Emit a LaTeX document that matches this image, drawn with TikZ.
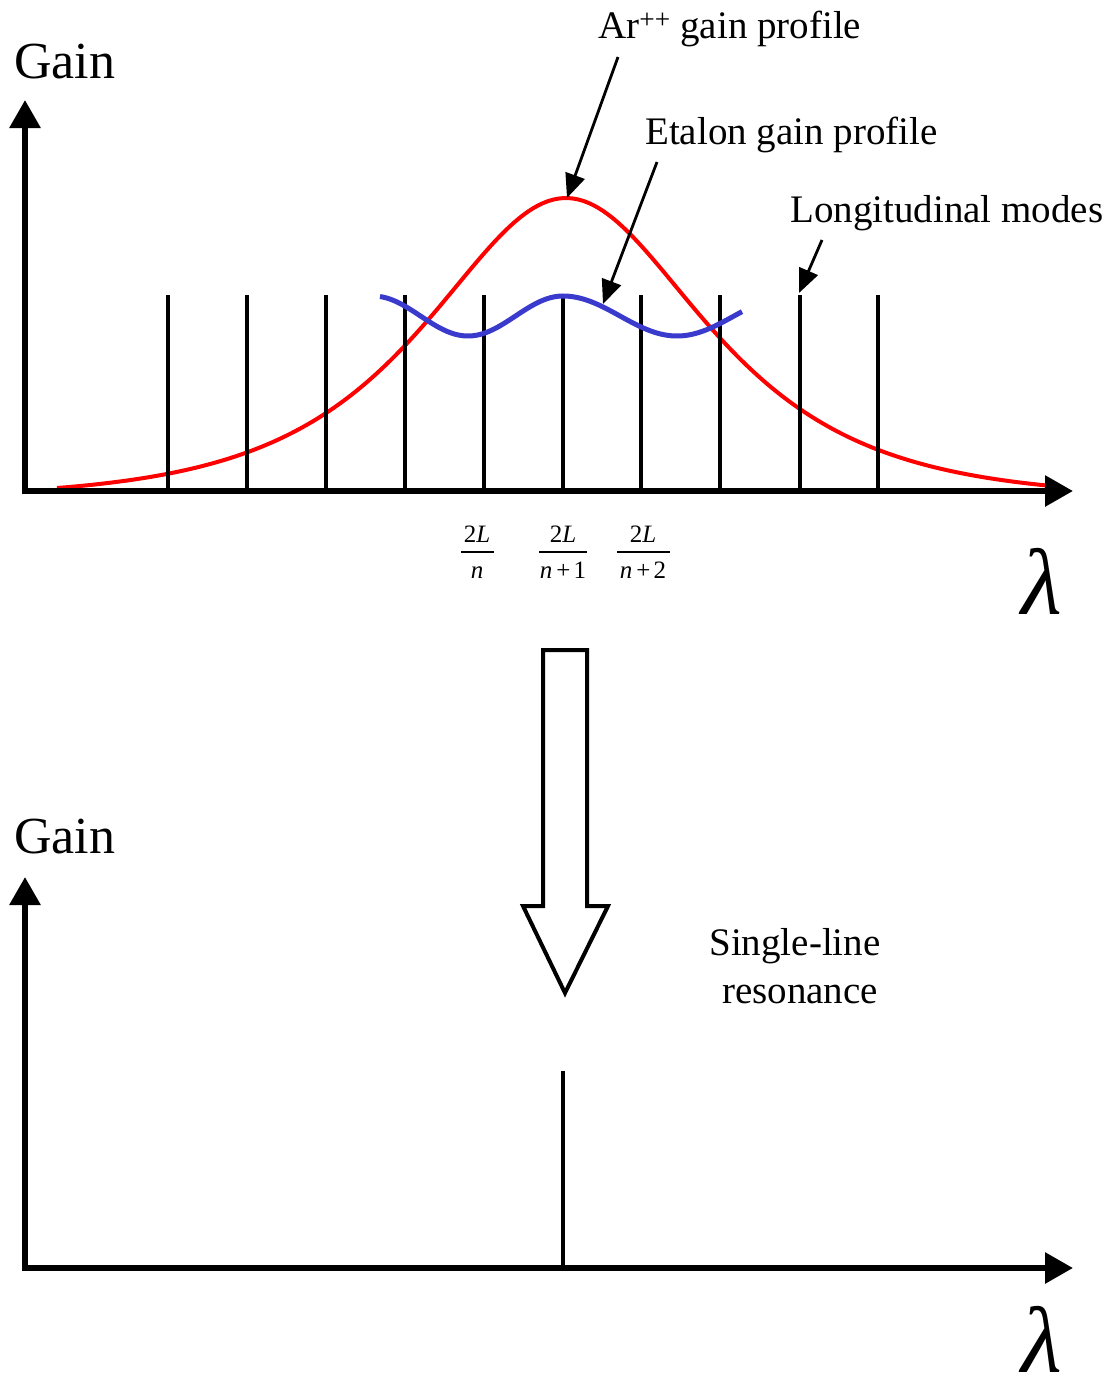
\documentclass[tikz,border=0pt]{standalone}
\usepackage{fontspec}
\setmainfont{Liberation Serif}
\usetikzlibrary{arrows.meta}
\definecolor{etablue}{RGB}{58,58,204}
\begin{document}
\begin{tikzpicture}[x=1pt,y=-1pt,
  axis/.style={line width=6pt,line cap=rect,-{Triangle[length=28pt,width=30pt]}},
  mode/.style={line width=4.5pt},
  pointer/.style={line width=2.8pt,-{Triangle[length=24pt,width=20pt]}},
  lbl/.style={inner sep=0pt,anchor=base west,font=\fontsize{39}{47}\selectfont},
  clbl/.style={inner sep=0pt,anchor=base,font=\fontsize{39}{47}\selectfont},
  gainlbl/.style={inner sep=0pt,anchor=base west,font=\fontsize{52}{60}\selectfont},
  lam/.style={inner sep=0pt,anchor=base,font=\fontsize{94}{100}\selectfont\itshape},
  frac/.style={inner sep=0pt,anchor=base,font=\fontsize{25}{30}\selectfont},
  fracbar/.style={line width=1.3pt},
  hollow/.style={line width=4pt,line join=miter,fill=white}]
\useasboundingbox (0,0) rectangle (1110,1393);

% ---------- top graph ----------
\coordinate (o1) at (25,491);
\coordinate (y1) at (25,100);
\coordinate (x1) at (1073,491);

% Ar++ gain profile (red)
\draw[red,line width=4pt] plot[domain=57:1045,samples=200]
  (\x,{491-(299.9/cosh((\x-566)/124)-6.9)});

% longitudinal modes
\foreach \i/\xx in {1/168,2/247,3/326,4/405,5/484,6/563,7/641,8/720,9/800,10/878}{
  \coordinate (mt\i) at (\xx,295);
  \coordinate (mb\i) at (\xx,491);
  \draw[mode] (mt\i) -- (mb\i);
}

% etalon gain profile (blue)
\draw[etablue,line width=5pt]
  plot[domain=380:563,samples=60] (\x,{316-20*cos(1.894737*(\x-563))})
  -- plot[domain=563:742,samples=60] (\x,{316-20*cos(1.578947*(\x-563))});

\draw[axis] (o1) -- (y1);
\draw[axis] (o1) -- (x1);

\node[gainlbl] (gain1) at (14,78) {Gain};
\node[lam] (lam1) at (1042,614) {λ};

% labels and pointers
\node[lbl] (arlbl) at (598,38) {Ar\textsuperscript{++} gain profile};
\node[lbl] (etlbl) at (645,144) {Etalon gain profile};
\node[lbl] (lmlbl) at (790,222) {Longitudinal modes};

\coordinate (arTail) at (618,57);
\coordinate (arTip) at (567,198);
\coordinate (etTail) at (657,162);
\coordinate (etTip) at (603,304);
\coordinate (lmTail) at (822,240);
\coordinate (lmTip) at (799,293);
\draw[pointer] (arTail) -- (arTip);
\draw[pointer] (etTail) -- (etTip);
\draw[pointer] (lmTail) -- (lmTip);

% fractions
\node[frac] (f1n) at (477,542) {2\textit{L}};
\draw[fracbar] (461,552) -- (494,552);
\node[frac] (f1d) at (477,578) {\textit{n}};
\node[frac] (f2n) at (563,542) {2\textit{L}};
\draw[fracbar] (539,552) -- (587,552);
\node[frac] (f2d) at (563,578) {\textit{n}\kern4pt+\kern3pt1};
\node[frac] (f3n) at (643,542) {2\textit{L}};
\draw[fracbar] (617,552) -- (670,552);
\node[frac] (f3d) at (643,578) {\textit{n}\kern4pt+\kern3pt2};

% ---------- hollow arrow ----------
\draw[hollow] (543,650) -- (587,650) -- (587,906) -- (608,906) -- (565,993)
  -- (523,906) -- (543,906) -- cycle;

% ---------- bottom graph ----------
\coordinate (o2) at (25,1268);
\coordinate (y2) at (25,877);
\coordinate (x2) at (1073,1268);
\coordinate (st) at (563,1071);
\coordinate (sb) at (563,1268);
\draw[mode] (st) -- (sb);
\draw[axis] (o2) -- (y2);
\draw[axis] (o2) -- (x2);

\node[gainlbl] (gain2) at (14,853) {Gain};
\node[lam] (lam2) at (1042,1372) {λ};

\node[clbl] (sl1) at (795,955) {Single-line};
\node[clbl] (sl2) at (800,1003) {resonance};
\end{tikzpicture}
\end{document}
